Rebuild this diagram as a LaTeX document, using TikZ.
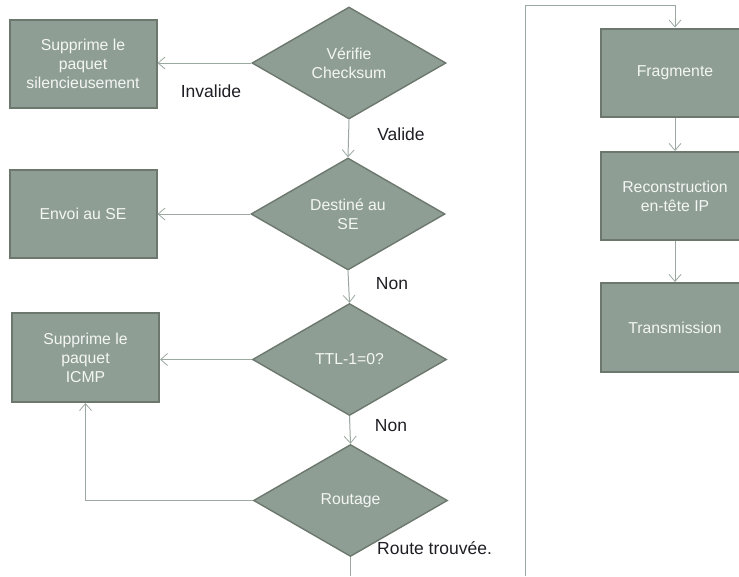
\documentclass[tikz,border=0pt]{standalone}
\usepackage{fontspec}
\setmainfont{Liberation Sans}
\usetikzlibrary{shapes.geometric,arrows.meta,calc}
\definecolor{boxfill}{HTML}{8E9E94}
\definecolor{boxedge}{HTML}{6C786E}
\definecolor{wire}{HTML}{9AA8A0}
\definecolor{boxtext}{HTML}{F4F6F4}
\definecolor{labeltext}{HTML}{1E1E24}
\tikzset{
  stepbox/.style={rectangle, draw=boxedge, fill=boxfill, line width=2pt,
    minimum width=147pt, minimum height=88pt, inner sep=0pt,
    align=center, text=boxtext, font=\fontsize{15.8}{19}\selectfont},
  testbox/.style={diamond, draw=boxedge, fill=boxfill, line width=1.4pt,
    minimum width=194pt, minimum height=112pt, inner sep=0pt,
    align=center, text=boxtext, font=\fontsize{15.8}{19}\selectfont},
  wirearrow/.style={draw=wire, line width=1pt,
    -{Straight Barb[length=7pt,width=12pt,line width=0.8pt]}},
  wireplain/.style={draw=wire, line width=1pt},
  branchlabel/.style={text=labeltext, font=\fontsize{17.5}{20}\selectfont, inner sep=0pt},
}
\begin{document}
\begin{tikzpicture}[x=1pt,y=-1pt]
  \useasboundingbox (0,0) rectangle (739,576);
  \clip (0,0) rectangle (739,576);

  % left column: checks and their side actions
  \node[testbox] (chk) at (349,63) {Vérifie\\Checksum};
  \node[stepbox] (drop) at (83,64) {Supprime le\\paquet\\silencieusement};
  \node[testbox] (dest) at (348,214) {Destiné au\\SE};
  \node[stepbox] (tose) at (83,214) {Envoi au SE};
  \node[testbox] (ttl) at (349.5,359.5) {TTL-1=0?};
  \node[stepbox, minimum height=89pt] (icmp) at (85.5,357.5) {Supprime le\\paquet\\ICMP};
  \node[testbox] (route) at (350.5,500.5) {Routage};

  % right column: forwarding steps
  \node[stepbox, minimum width=148pt, minimum height=88pt] (frag) at (675,72.5) {Fragmente};
  \node[stepbox, minimum width=148pt, minimum height=88pt] (hdr) at (675,196) {Reconstruction\\en-tête IP};
  \node[stepbox, minimum width=148pt, minimum height=89pt] (xmit) at (675,327.5) {Transmission};

  % page-edge ends of the continuation wire
  \coordinate (outA) at (350.5,576);
  \coordinate (inB) at (525,576);
  \coordinate (topB) at (525,5);

  % connectors
  \draw[wirearrow] (chk.west) -- (chk.west -| drop.east);
  \draw[wirearrow] (chk.south) -- (dest.north);
  \draw[wirearrow] (dest.west) -- (dest.west -| tose.east);
  \draw[wirearrow] (dest.south) -- (ttl.north);
  \draw[wirearrow] (ttl.west) -- (ttl.west -| icmp.east);
  \draw[wirearrow] (ttl.south) -- (route.north);
  \draw[wirearrow] (route.west) -| (icmp.south);
  \draw[wireplain] (route.south) -- (outA);
  \draw[wirearrow] (inB) -- (topB) -| (frag.north);
  \draw[wirearrow] (frag.south) -- (hdr.north);
  \draw[wirearrow] (hdr.south) -- (xmit.north);

  % branch labels
  \node[branchlabel] (lInv) at (211,91) {Invalide};
  \node[branchlabel] (lVal) at (401,134) {Valide};
  \node[branchlabel] (lNon1) at (392,284) {Non};
  \node[branchlabel] (lNon2) at (391,426) {Non};
  \node[branchlabel, anchor=west] (lRoute) at (377,548) {Route trouvée.};
\end{tikzpicture}
\end{document}
